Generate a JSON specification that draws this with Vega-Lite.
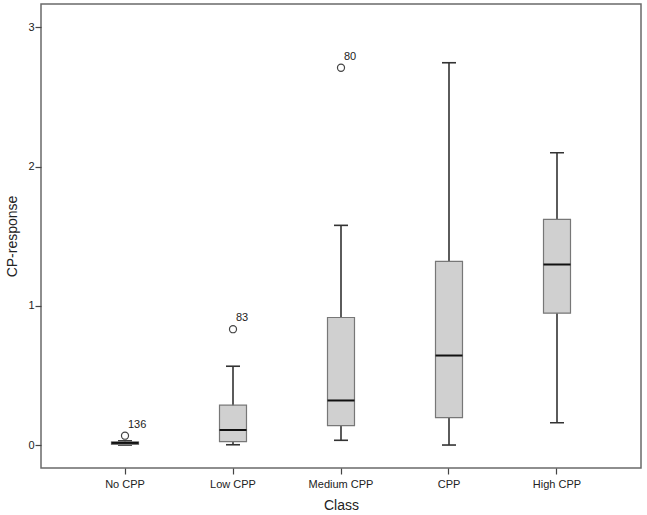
{
  "$schema": "https://vega.github.io/schema/vega-lite/v6.json",
  "width": 600,
  "height": 464,
  "autosize": {"type": "none"},
  "padding": {"left": 41, "top": 4, "right": 6, "bottom": 47},
  "background": "white",
  "config": {
    "font": "Liberation Sans",
    "view": {"stroke": "#6a6a6a", "strokeWidth": 1.5},
    "axis": {
      "grid": false,
      "domain": false,
      "tickSize": 6,
      "tickColor": "#444",
      "tickWidth": 1.2,
      "labelFontSize": 11,
      "labelColor": "#222",
      "titleFontSize": 14,
      "titleFontWeight": "normal",
      "titleColor": "#222"
    }
  },
  "datasets": {
    "boxes": [
      {"cls": "No CPP", "lower": 0.0, "q1": 0.005, "median": 0.015, "q3": 0.022, "upper": 0.03},
      {"cls": "Low CPP", "lower": 0.002, "q1": 0.024, "median": 0.108, "q3": 0.286, "upper": 0.566},
      {"cls": "Medium CPP", "lower": 0.034, "q1": 0.139, "median": 0.32, "q3": 0.916, "upper": 1.578},
      {"cls": "CPP", "lower": 0.0, "q1": 0.197, "median": 0.643, "q3": 1.319, "upper": 2.746},
      {"cls": "High CPP", "lower": 0.16, "q1": 0.947, "median": 1.297, "q3": 1.621, "upper": 2.1}
    ],
    "outliers": [
      {"cls": "No CPP", "value": 0.067, "label": "136"},
      {"cls": "Low CPP", "value": 0.832, "label": "83"},
      {"cls": "Medium CPP", "value": 2.71, "label": "80"}
    ]
  },
  "encoding": {
    "x": {
      "field": "cls",
      "type": "nominal",
      "sort": ["No CPP", "Low CPP", "Medium CPP", "CPP", "High CPP"],
      "scale": {"paddingInner": 0, "paddingOuter": 0.2778},
      "title": "Class",
      "axis": {"labelAngle": 0, "labelPadding": 4, "titlePadding": 9}
    }
  },
  "layer": [
    {
      "data": {"name": "boxes"},
      "mark": {"type": "rule", "color": "#333", "strokeWidth": 1.6},
      "encoding": {
        "y": {
          "field": "lower",
          "type": "quantitative",
          "scale": {"domain": [-0.165, 3.168], "nice": false, "zero": false},
          "axis": {"values": [0, 1, 2, 3], "format": "d", "labelPadding": 1, "titlePadding": 8},
          "title": "CP-response"
        },
        "y2": {"field": "upper"}
      }
    },
    {
      "data": {"name": "boxes"},
      "mark": {"type": "tick", "color": "#333", "opacity": 1, "thickness": 1.6, "size": 14},
      "encoding": {"y": {"field": "lower", "type": "quantitative"}}
    },
    {
      "data": {"name": "boxes"},
      "mark": {"type": "tick", "color": "#333", "opacity": 1, "thickness": 1.6, "size": 14},
      "encoding": {"y": {"field": "upper", "type": "quantitative"}}
    },
    {
      "data": {"name": "boxes"},
      "mark": {"type": "bar", "width": 27, "fill": "#d0d0d0", "stroke": "#777", "strokeWidth": 1.2, "opacity": 1},
      "encoding": {
        "y": {"field": "q1", "type": "quantitative"},
        "y2": {"field": "q3"}
      }
    },
    {
      "data": {"name": "boxes"},
      "mark": {"type": "tick", "color": "#111", "opacity": 1, "thickness": 2, "size": 27},
      "encoding": {"y": {"field": "median", "type": "quantitative"}}
    },
    {
      "data": {"name": "outliers"},
      "mark": {"type": "point", "shape": "circle", "size": 50, "filled": false, "color": "#444", "strokeWidth": 1.2, "opacity": 1},
      "encoding": {"y": {"field": "value", "type": "quantitative"}}
    },
    {
      "data": {"name": "outliers"},
      "mark": {"type": "text", "align": "left", "baseline": "alphabetic", "dx": 3, "dy": -8, "fontSize": 11, "color": "#222"},
      "encoding": {
        "y": {"field": "value", "type": "quantitative"},
        "text": {"field": "label"}
      }
    }
  ]
}
